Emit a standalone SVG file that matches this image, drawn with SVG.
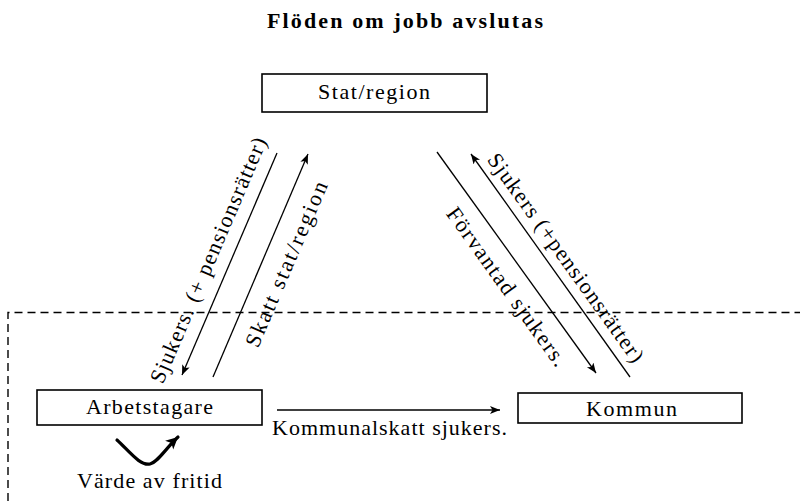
<svg xmlns="http://www.w3.org/2000/svg" width="800" height="501" viewBox="0 0 800 501">
<style>
text{font-family:"Liberation Serif","Times New Roman",serif;font-size:22px;fill:#000;text-anchor:middle}
.title{font-weight:bold;font-size:22px}
.box{fill:#fff;stroke:#000;stroke-width:1.6}
.conn{fill:none;stroke:#000;stroke-width:1.3}
.thick{fill:none;stroke:#000;stroke-width:3.2;stroke-linecap:round}
.dash{fill:none;stroke:#000;stroke-width:1.4;stroke-dasharray:8 5}
</style>
<defs>
<marker id="ah" markerUnits="userSpaceOnUse" markerWidth="12" markerHeight="10" refX="10" refY="4" orient="auto">
<path d="M0,0 L10,4 L0,8 L2.5,4 z" fill="#000"/>
</marker>
<marker id="ahb" markerUnits="userSpaceOnUse" markerWidth="16" markerHeight="14" refX="12" refY="6" orient="auto">
<path d="M0,0 L12,6 L0,12 L3,6 z" fill="#000"/>
</marker>
</defs>
<rect width="800" height="501" fill="#fff"/>
<text class="title" x="405" y="28" textLength="276" lengthAdjust="spacing">Flöden om jobb avslutas</text>
<path class="dash" d="M8,501 L8,312.5 L802,312.5"/>
<g id="stat">
<rect class="box" x="262" y="74" width="225" height="38"/>
<text x="374" y="99" textLength="112" lengthAdjust="spacing">Stat/region</text>
</g>
<g id="arbetstagare">
<rect class="box" x="37" y="390" width="225" height="35"/>
<text x="149.5" y="414" textLength="127" lengthAdjust="spacing">Arbetstagare</text>
</g>
<g id="kommun">
<rect class="box" x="518" y="393" width="224" height="30"/>
<text x="631.5" y="416" textLength="91" lengthAdjust="spacing">Kommun</text>
</g>
<g id="connectors">
<line class="conn" x1="277" y1="153" x2="182" y2="375" marker-end="url(#ah)"/>
<line class="conn" x1="213" y1="377" x2="308" y2="154" marker-end="url(#ah)"/>
<line class="conn" x1="437" y1="152" x2="596" y2="373" marker-end="url(#ah)"/>
<line class="conn" x1="630" y1="377" x2="471" y2="154" marker-end="url(#ah)"/>
<line class="conn" x1="277" y1="410" x2="500" y2="410" marker-end="url(#ah)"/>
<path class="thick" d="M117,440 C130,452 140,466 150,464 C158,462 166,448 178,437" marker-end="url(#ahb)"/>
<text transform="translate(215,263) rotate(-66.8)" textLength="265" lengthAdjust="spacing">Sjukers. (+ pensionsrätter)</text>
<text transform="translate(293,267) rotate(-66.8)" textLength="178" lengthAdjust="spacing">Skatt stat/region</text>
<text transform="translate(501,291) rotate(54.3)" textLength="190" lengthAdjust="spacing">Förvantad sjukers.</text>
<text transform="translate(560,262) rotate(54.3)" textLength="252" lengthAdjust="spacing">Sjukers (+pensionsrätter)</text>
<text x="389.5" y="435" textLength="235" lengthAdjust="spacing">Kommunalskatt sjukers.</text>
<text x="149.5" y="488" textLength="145" lengthAdjust="spacing">Värde av fritid</text>
</g>
</svg>
